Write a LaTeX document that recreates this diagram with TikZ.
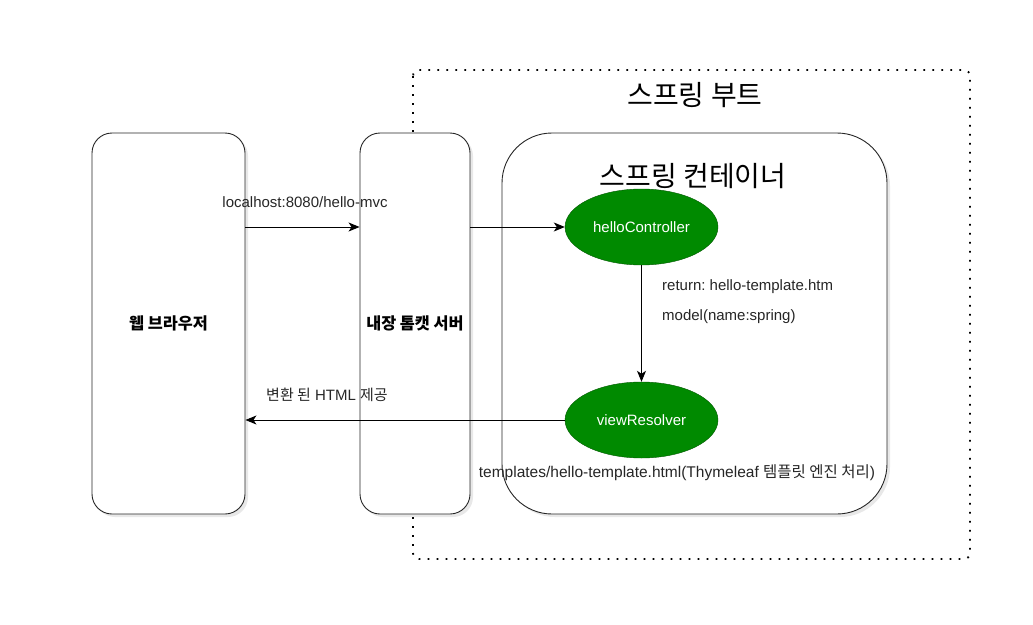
\documentclass[tikz,border=0pt]{standalone}
\usepackage{fontspec}
\setmainfont{Liberation Sans}
\newfontfamily\kr{Noto Sans CJK KR}
\usetikzlibrary{shadows,arrows.meta,shapes.geometric}
\definecolor{dgreen}{HTML}{008A00}
\definecolor{dgreenline}{HTML}{005700}
\frenchspacing
\tikzset{
  box/.style={draw=black!85,line width=0.9pt,fill=white,rounded corners=20pt,
    drop shadow={opacity=0.18,shadow xshift=3pt,shadow yshift=-3pt}},
  oval/.style={ellipse,draw=dgreenline,fill=dgreen,text=white,minimum width=153pt,minimum height=76pt,inner sep=0pt,font=\fontsize{15}{17}\selectfont},
  conn/.style={line width=0.9pt,-{Stealth[length=11pt,width=9pt,inset=3pt]}},
  lbl/.style={font=\fontsize{15}{17}\selectfont,text=black!85,inner sep=0pt},
}
\begin{document}
\begin{tikzpicture}[x=1pt,y=-1pt]
\useasboundingbox (0,0) rectangle (1033,624);
% spring boot dotted boundary
\draw[line width=1.8pt,dash pattern=on 1.8pt off 7.2pt,rounded corners=6pt] (413,70) rectangle (970,559);
\node[font=\kr\fontsize{28}{32}\selectfont,inner sep=0pt] (boot) at (695,95) {스프링 부트};
% boxes
\node[box,minimum width=153pt,minimum height=381pt,font=\kr\bfseries\fontsize{16.3}{18}\selectfont] (browser) at (168.5,323.5) {웹 브라우저};
\node[box,minimum width=110pt,minimum height=381pt,font=\kr\bfseries\fontsize{16.3}{18}\selectfont] (tomcat) at (415,323.5) {내장 톰캣 서버};
\node[box,rounded corners=50pt,minimum width=385pt,minimum height=381pt] (container) at (694.5,323.5) {};
\node[font=\kr\fontsize{28}{32}\selectfont,inner sep=0pt] (ctitle) at (693,176) {스프링 컨테이너};
% ovals
\node[oval] (hc) at (641.5,227) {helloController};
\node[oval] (vr) at (641.5,420) {viewResolver};
% connectors
\draw[conn] (browser.east |- hc) -- (tomcat.west |- hc);
\draw[conn] (tomcat.east |- hc) -- (hc.west);
\draw[conn] (hc.south) -- (vr.north);
\draw[conn] (vr.west) -- (browser.east |- vr);
% labels
\node[lbl] (l1) at (305,202) {localhost:8080/hello-mvc};
\node[lbl] (l2) at (327,395) {{\kr 변환 된} HTML {\kr 제공}};
\node[lbl,anchor=west] (l3) at (662,287) {return: hello-template.htm};
\node[lbl,anchor=west] (l4) at (662,317) {model(name:spring)};
\node[lbl,font=\fontsize{15.5}{17}\selectfont] (l5) at (677,473) {templates/hello-template.html(Thymeleaf {\kr 템플릿 엔진 처리})};
\end{tikzpicture}
\end{document}
